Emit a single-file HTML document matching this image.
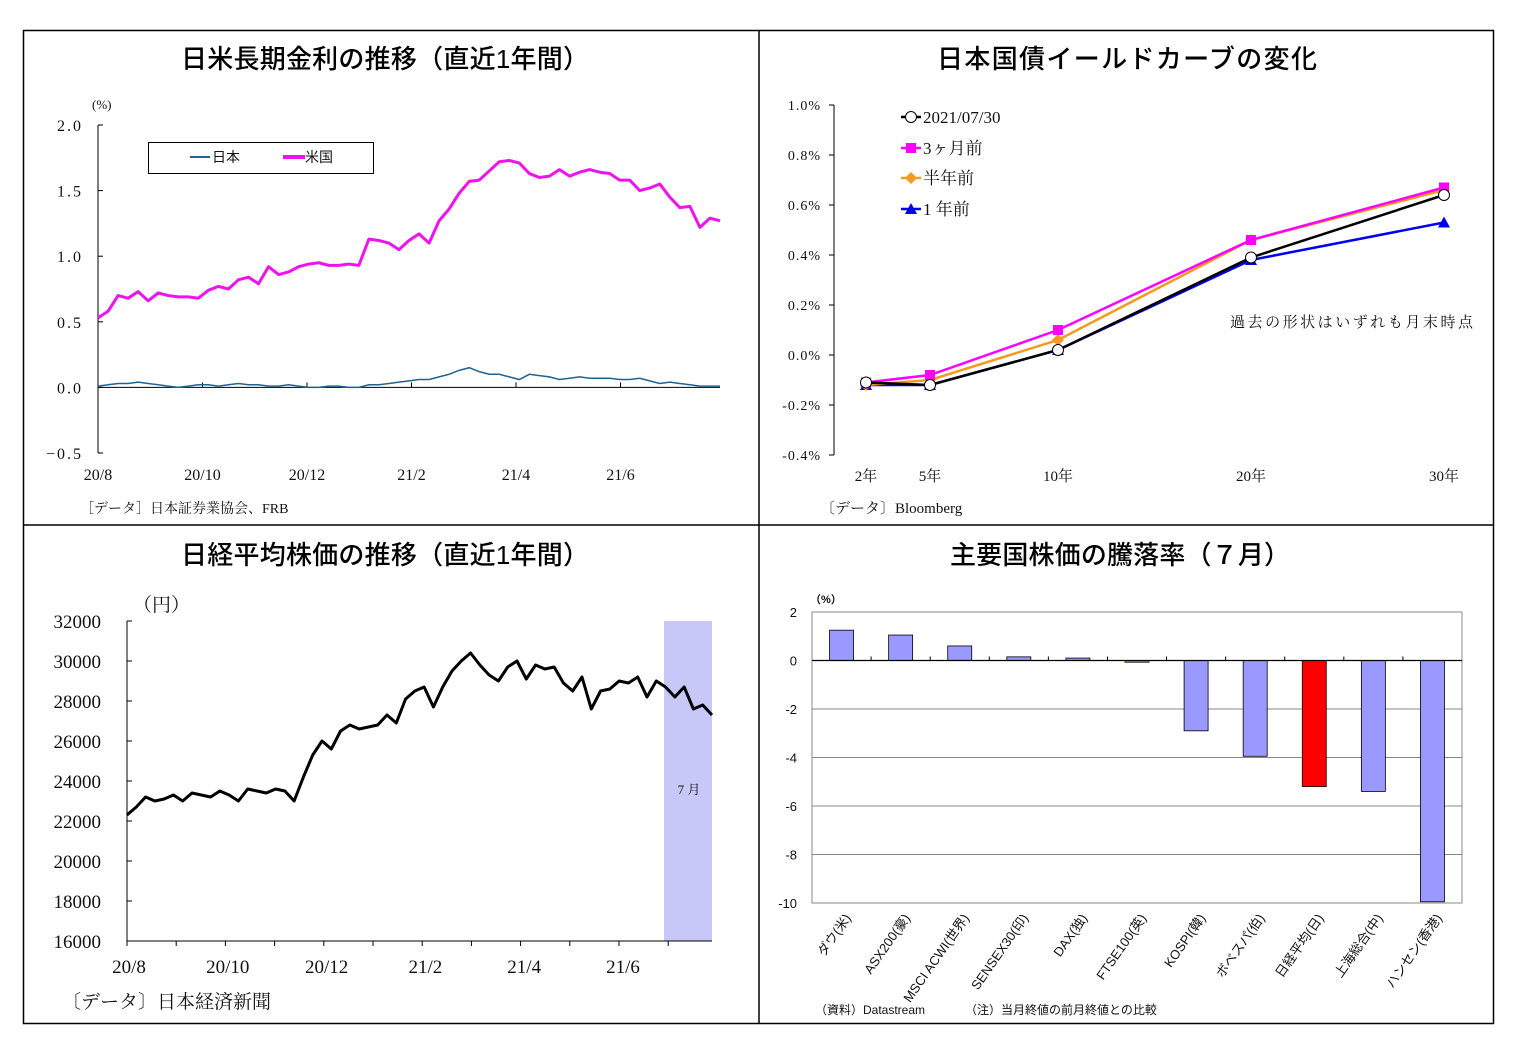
<!DOCTYPE html>
<html><head><meta charset="utf-8">
<style>
html,body{margin:0;padding:0;background:#fff;}
svg{display:block;}
.t{font-family:"Liberation Sans","Noto Sans CJK JP",sans-serif;font-size:26px;fill:#000;font-weight:500;}
.s{font-family:"Liberation Serif","Noto Serif CJK SC",serif;fill:#111;}
.g{font-family:"Liberation Sans","Noto Sans CJK JP",sans-serif;fill:#111;}
</style></head>
<body>
<svg id="root" width="1515" height="1046" xmlns="http://www.w3.org/2000/svg">
<rect x="23.5" y="30.5" width="1470" height="993" fill="none" stroke="#000" stroke-width="1.5"/>
<line x1="759" y1="30" x2="759" y2="1023" stroke="#000" stroke-width="1.5"/>
<line x1="23" y1="525" x2="1493" y2="525" stroke="#000" stroke-width="1.5"/>

<g id="p1">
<text class="t" x="385" y="68" text-anchor="middle" textLength="408">日米長期金利の推移（直近1年間）</text>
<text class="s" x="92" y="109" font-size="13">(%)</text>
<rect x="148.5" y="142.5" width="225" height="31" fill="#fff" stroke="#000"/>
<line x1="190" y1="157" x2="210" y2="157" stroke="#1f6391" stroke-width="2"/>
<text class="g" x="212" y="162" font-size="14">日本</text>
<line x1="283" y1="157" x2="305" y2="157" stroke="#ee12ee" stroke-width="4"/>
<text class="g" x="305" y="162" font-size="14">米国</text>
<text class="s" x="80" y="513" font-size="14">［データ］日本証券業協会、FRB</text>
</g>

<g id="p2">
<text class="t" x="1127" y="68" text-anchor="middle" textLength="380">日本国債イールドカーブの変化</text>
<text class="s" x="1230" y="327" font-size="15" textLength="243">過去の形状はいずれも月末時点</text>
<text class="s" x="820" y="513" font-size="15">〔データ〕Bloomberg</text>
</g>

<g id="p3">
<text class="t" x="385" y="564" text-anchor="middle" textLength="408">日経平均株価の推移（直近1年間）</text>
<text class="s" x="133" y="611" font-size="19">（円）</text>
<text class="s" x="62" y="1008" font-size="19">〔データ〕日本経済新聞</text>
</g>

<g id="p4">
<text class="t" x="1120" y="564" text-anchor="middle" textLength="340">主要国株価の騰落率（７月）</text>
<text class="g" x="810" y="603" font-size="11" font-weight="bold">（%）</text>
<text class="g" x="815" y="1014" font-size="12">（資料）Datastream</text>
<text class="g" x="965" y="1014" font-size="12">（注）当月終値の前月終値との比較</text>
</g>
</svg>
<script>
const usYield=[0.53,0.58,0.70,0.68,0.73,0.66,0.72,0.70,0.69,0.69,0.68,0.74,0.77,0.75,0.82,0.84,0.79,0.92,0.86,0.88,0.92,0.94,0.95,0.93,0.93,0.94,0.93,1.13,1.12,1.10,1.05,1.12,1.17,1.10,1.27,1.36,1.48,1.57,1.58,1.65,1.72,1.73,1.71,1.63,1.60,1.61,1.66,1.61,1.64,1.66,1.64,1.63,1.58,1.58,1.50,1.52,1.55,1.45,1.37,1.38,1.22,1.29,1.27];
const jpYield=[0.01,0.02,0.03,0.03,0.04,0.03,0.02,0.01,0.00,0.01,0.02,0.02,0.01,0.02,0.03,0.02,0.02,0.01,0.01,0.02,0.01,0.00,0.00,0.01,0.01,0.00,0.00,0.02,0.02,0.03,0.04,0.05,0.06,0.06,0.08,0.10,0.13,0.15,0.12,0.10,0.10,0.08,0.06,0.10,0.09,0.08,0.06,0.07,0.08,0.07,0.07,0.07,0.06,0.06,0.07,0.05,0.03,0.04,0.03,0.02,0.01,0.01,0.01];
const ratesYTicks=["2.0","1.5","1.0","0.5","0.0","\u22120.5"];
const ratesYVals=[2,1.5,1,0.5,0,-0.5];
const ratesXTicks=["20/8","20/10","20/12","21/2","21/4","21/6"];

const curveTenors=[2,5,10,20,30];
const curveLabels=["2年","5年","10年","20年","30年"];
const curveNow=[-0.11,-0.12,0.02,0.39,0.64];
const curve3m=[-0.11,-0.08,0.10,0.46,0.67];
const curve6m=[-0.12,-0.10,0.06,0.46,0.66];
const curve1y=[-0.12,-0.12,0.02,0.38,0.53];
const curveYTicks=["1.0%","0.8%","0.6%","0.4%","0.2%","0.0%","-0.2%","-0.4%"];
const curveYVals=[1,0.8,0.6,0.4,0.2,0,-0.2,-0.4];

const nikkei=[22300,22700,23200,23000,23100,23300,23000,23400,23300,23200,23500,23300,23000,23600,23500,23400,23600,23500,23000,24200,25300,26000,25600,26500,26800,26600,26700,26800,27300,26900,28100,28500,28700,27700,28700,29500,30000,30400,29800,29300,29000,29700,30000,29100,29800,29600,29700,28900,28500,29200,27600,28500,28600,29000,28900,29200,28200,29000,28700,28200,28700,27600,27800,27300];
const nikkeiYVals=[32000,30000,28000,26000,24000,22000,20000,18000,16000];
const nikkeiXTicks=["20/8","20/10","20/12","21/2","21/4","21/6"];

const stockNames=["ダウ(米)","ASX200(豪)","MSCI ACWI(世界)","SENSEX30(印)","DAX(独)","FTSE100(英)","KOSPI(韓)","ボベスパ(伯)","日経平均(日)","上海総合(中)","ハンセン(香港)"];
const stockChanges=[1.25,1.05,0.6,0.15,0.1,-0.07,-2.9,-3.95,-5.2,-5.4,-9.95];
const stockYVals=[2,0,-2,-4,-6,-8,-10];

const NS="http://www.w3.org/2000/svg";
function mk(tag,attrs,parent,text){const e=document.createElementNS(NS,tag);for(const k in attrs)e.setAttribute(k,attrs[k]);if(text!==undefined)e.textContent=text;parent.appendChild(e);return e;}
const p1=document.getElementById('p1'),p2=document.getElementById('p2'),p3=document.getElementById('p3'),p4=document.getElementById('p4');

(function(){
const x0=98,x1=720,yTop=125,yBot=453;
const y=v=>yTop+(2-v)*(yBot-yTop)/2.5;
const xi=(i,n)=>x0+i*(x1-x0)/(n-1);
let ax=mk('line',{x1:x0,y1:yTop,x2:x0,y2:yBot,stroke:'#000'},p1);

ratesYVals.forEach((v,i)=>{
 let t=mk('line',{x1:x0,y1:y(v),x2:x0+5,y2:y(v),stroke:'#000'},p1);
 
 let l=mk('text',{x:83,y:y(v)+6,'text-anchor':'end','font-size':16,class:'s',fill:v<0?'#e00':'#111','letter-spacing':'2'},p1,ratesYTicks[i]);
 
});
let xa=mk('line',{x1:x0,y1:y(0),x2:x1,y2:y(0),stroke:'#000'},p1);

ratesXTicks.forEach((s,i)=>{
 const xx=x0+i*104.5;
 let t=mk('line',{x1:xx,y1:y(0),x2:xx,y2:y(0)-5,stroke:'#000'},p1);
 
 let l=mk('text',{x:xx,y:480,'text-anchor':'middle','font-size':16,class:'s'},p1,s);
 
});
let us=mk('polyline',{points:usYield.map((v,i)=>xi(i,usYield.length)+','+y(v)).join(' '),fill:'none',stroke:'#ee12ee','stroke-width':3,'stroke-linejoin':'round'},p1);

let jp=mk('polyline',{points:jpYield.map((v,i)=>xi(i,jpYield.length)+','+y(v)).join(' '),fill:'none',stroke:'#1f6391','stroke-width':1.5},p1);

})();

(function(){
const xL=834,yTop=105,yBot=455;
// piecewise scale anchors (domain in years -> range in px)
const dom=[2,5,10,20,30],rng=[866,930,1058,1251,1444];
const x=t=>{for(let k=0;k<dom.length-1;k++){if(t<=dom[k+1]){return rng[k]+(t-dom[k])*(rng[k+1]-rng[k])/(dom[k+1]-dom[k]);}}return rng[rng.length-1];};
const y=v=>yTop+(1-v)*(yBot-yTop)/1.4;
let ax=mk('line',{x1:xL,y1:yTop,x2:xL,y2:yBot,stroke:'#000'},p2);

curveYVals.forEach((v,i)=>{
 let t=mk('line',{x1:xL-5,y1:y(v),x2:xL,y2:y(v),stroke:'#000'},p2);
 
 let l=mk('text',{x:821,y:y(v)+5,'text-anchor':'end','font-size':14,class:'s','letter-spacing':'1'},p2,curveYTicks[i]);
 
});
curveTenors.forEach((t,i)=>{
 let l=mk('text',{x:x(t),y:481,'text-anchor':'middle','font-size':15,class:'s'},p2,curveLabels[i]);
 
});
const series=[
 {d:curve1y,c:'#0000ee',m:'tri',n:'1 年前',ly:209},
 {d:curve6m,c:'#f59a1e',m:'dia',n:'半年前',ly:178},
 {d:curve3m,c:'#ff00ff',m:'sq',n:'3ヶ月前',ly:148},
 {d:curveNow,c:'#000',m:'circ',n:'2021/07/30',ly:117}];
function marker(m,cx,cy,c){
 let e;
 if(m==='tri')e=mk('polygon',{points:`${cx},${cy-6} ${cx-6},${cy+5} ${cx+6},${cy+5}`,fill:c},p2);
 else if(m==='dia')e=mk('polygon',{points:`${cx},${cy-6} ${cx+6},${cy} ${cx},${cy+6} ${cx-6},${cy}`,fill:c},p2);
 else if(m==='sq')e=mk('rect',{x:cx-5,y:cy-5,width:10,height:10,fill:c},p2);
 else e=mk('circle',{cx:cx,cy:cy,r:5.5,fill:'#fff',stroke:'#000'},p2);
 
}
series.forEach(s=>{
 let pl=mk('polyline',{points:s.d.map((v,i)=>x(curveTenors[i])+','+y(v)).join(' '),fill:'none',stroke:s.c,'stroke-width':2.5},p2);
 
 s.d.forEach((v,i)=>marker(s.m,x(curveTenors[i]),y(v),s.c));
 let ll=mk('line',{x1:901,y1:s.ly,x2:921,y2:s.ly,stroke:s.c,'stroke-width':2.5},p2);
 
 marker(s.m,911,s.ly,s.c);
 let lt=mk('text',{x:923,y:s.ly+6,'font-size':17,class:'s'},p2,s.n);
 
});
})();

(function(){
const x0=127,x1=712,yTop=621,yBot=941;
const y=v=>yTop+(32000-v)*(yBot-yTop)/16000;
let sh=mk('rect',{x:664,y:yTop,width:48,height:yBot-yTop,fill:'#c8c8f8'},p3);

let jl=mk('text',{x:689,y:794,'text-anchor':'middle','font-size':13,class:'s',fill:'#444'},p3,'7 月');

let ax=mk('line',{x1:x0,y1:yTop,x2:x0,y2:yBot,stroke:'#000'},p3);

let xa=mk('line',{x1:x0,y1:yBot,x2:x1,y2:yBot,stroke:'#000'},p3);

nikkeiYVals.forEach(v=>{
 let t=mk('line',{x1:x0,y1:y(v),x2:x0+5,y2:y(v),stroke:'#000'},p3);
 
 let l=mk('text',{x:101,y:y(v)+7,'text-anchor':'end','font-size':19,class:'s'},p3,String(v));
 
});
for(let k=0;k<12;k++){
 const xx=x0+k*49.2;
 let t=mk('line',{x1:xx,y1:yBot,x2:xx,y2:yBot+5,stroke:'#000'},p3);
 
}
nikkeiXTicks.forEach((s,i)=>{
 let l=mk('text',{x:x0+2+i*98.8,y:973,'text-anchor':'middle','font-size':19,class:'s'},p3,s);
 
});
let pl=mk('polyline',{points:nikkei.map((v,i)=>(x0+i*(x1-x0)/(nikkei.length-1))+','+y(v)).join(' '),fill:'none',stroke:'#000','stroke-width':3,'stroke-linejoin':'round'},p3);

})();

(function(){
const x0=812,x1=1462,yTop=612,yBot=903;
const y=v=>yTop+(2-v)*(yBot-yTop)/12;
const bw=(x1-x0)/stockNames.length;
let fr=mk('rect',{x:x0,y:yTop,width:x1-x0,height:yBot-yTop,fill:'none',stroke:'#888'},p4);

stockYVals.forEach(v=>{
 let g=mk('line',{x1:x0,y1:y(v),x2:x1,y2:y(v),stroke:'#888'},p4);
 
 let l=mk('text',{x:797,y:y(v)+5,'text-anchor':'end','font-size':13,class:'g',fill:v<0?'#e00':'#111'},p4,String(v));
 
});
stockChanges.forEach((v,i)=>{
 const cx=x0+bw*(i+0.5);
 const top=Math.min(y(v),y(0)),h=Math.abs(y(v)-y(0));
 let b=mk('rect',{x:cx-12,y:top,width:24,height:Math.max(h,1),fill:i===8?'#ff0000':'#9999ff',stroke:'#000','stroke-width':0.8},p4);
 
 let l=mk('text',{x:0,y:0,'text-anchor':'end','font-size':13,class:'g',transform:`translate(${cx+10},${918}) rotate(-55)`},p4,stockNames[i]);
 
});
for(let k=1;k<stockNames.length;k++){
 let t=mk('line',{x1:x0+bw*k,y1:y(0),x2:x0+bw*k,y2:y(0)-4,stroke:'#000'},p4);
 
}
let z=mk('line',{x1:x0,y1:y(0),x2:x1,y2:y(0),stroke:'#000','stroke-width':1.2},p4);

})();
</script>
</body></html>
